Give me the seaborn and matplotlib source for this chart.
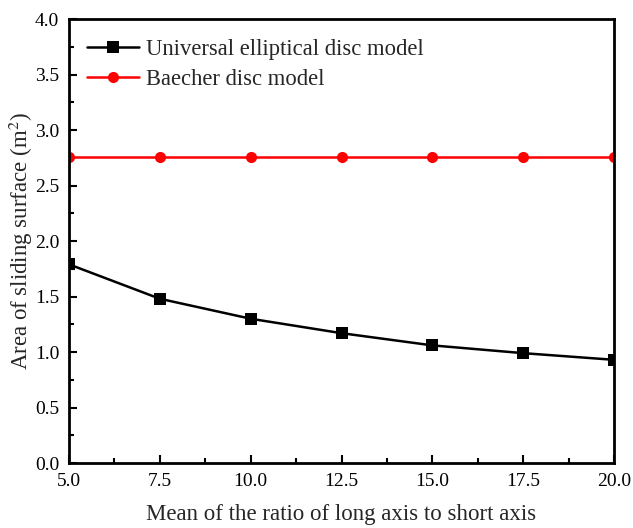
import numpy as np
import pandas as pd
import matplotlib
matplotlib.use("Agg")
import matplotlib.pyplot as plt
import seaborn as sns
from matplotlib.ticker import MultipleLocator, FormatStrFormatter

ratio_mean = [5.0, 7.5, 10.0, 12.5, 15.0, 17.5, 20.0]
elliptical_area = [1.79, 1.48, 1.30, 1.17, 1.06, 0.99, 0.93]
baecher_area = [2.76, 2.76, 2.76, 2.76, 2.76, 2.76, 2.76]
series_names = ["Universal elliptical disc model", "Baecher disc model"]

sns.set_theme(style="ticks")
plt.rcParams["font.family"] = ["Liberation Serif", "DejaVu Serif"]
plt.rcParams["mathtext.fontset"] = "stix"

df = pd.DataFrame({
    "ratio": ratio_mean * 2,
    "area": elliptical_area + baecher_area,
    "model": [series_names[0]] * len(ratio_mean) + [series_names[1]] * len(ratio_mean),
})

fig = plt.figure(figsize=(6.33, 5.28), dpi=100)
ax = fig.add_axes([0.109, 0.123, 0.861, 0.841])

sns.lineplot(data=df, x="ratio", y="area", hue="model", style="model",
             palette=["black", "red"], markers=["s", "o"], dashes=False,
             markersize=8, linewidth=1.8, markeredgewidth=0, ax=ax)

ax.set_xlim(5, 20)
ax.set_ylim(0, 4)
ax.xaxis.set_major_locator(MultipleLocator(2.5))
ax.xaxis.set_minor_locator(MultipleLocator(1.25))
ax.yaxis.set_major_locator(MultipleLocator(0.5))
ax.yaxis.set_minor_locator(MultipleLocator(0.25))
ax.xaxis.set_major_formatter(FormatStrFormatter("%.1f"))
ax.yaxis.set_major_formatter(FormatStrFormatter("%.1f"))

ax.tick_params(which="major", direction="in", length=6, width=1.5, labelsize=14,
               colors="black", pad=7)
ax.tick_params(which="minor", direction="in", length=3.5, width=1.5, colors="black")
for s in ax.spines.values():
    s.set_linewidth(2)
    s.set_color("black")

ax.set_xlabel("Mean of the ratio of long axis to short axis", fontsize=16.5, labelpad=10)
ax.set_ylabel("Area of sliding surface (m$^2$)", fontsize=16.5, labelpad=0)

leg = ax.legend(loc="upper left", frameon=False, fontsize=16.3, handlelength=2.3,
                handletextpad=0.3, bbox_to_anchor=(0.0, 0.995), labelspacing=0.38,
                borderaxespad=0.4)

fig.savefig("out.png", dpi=100)
